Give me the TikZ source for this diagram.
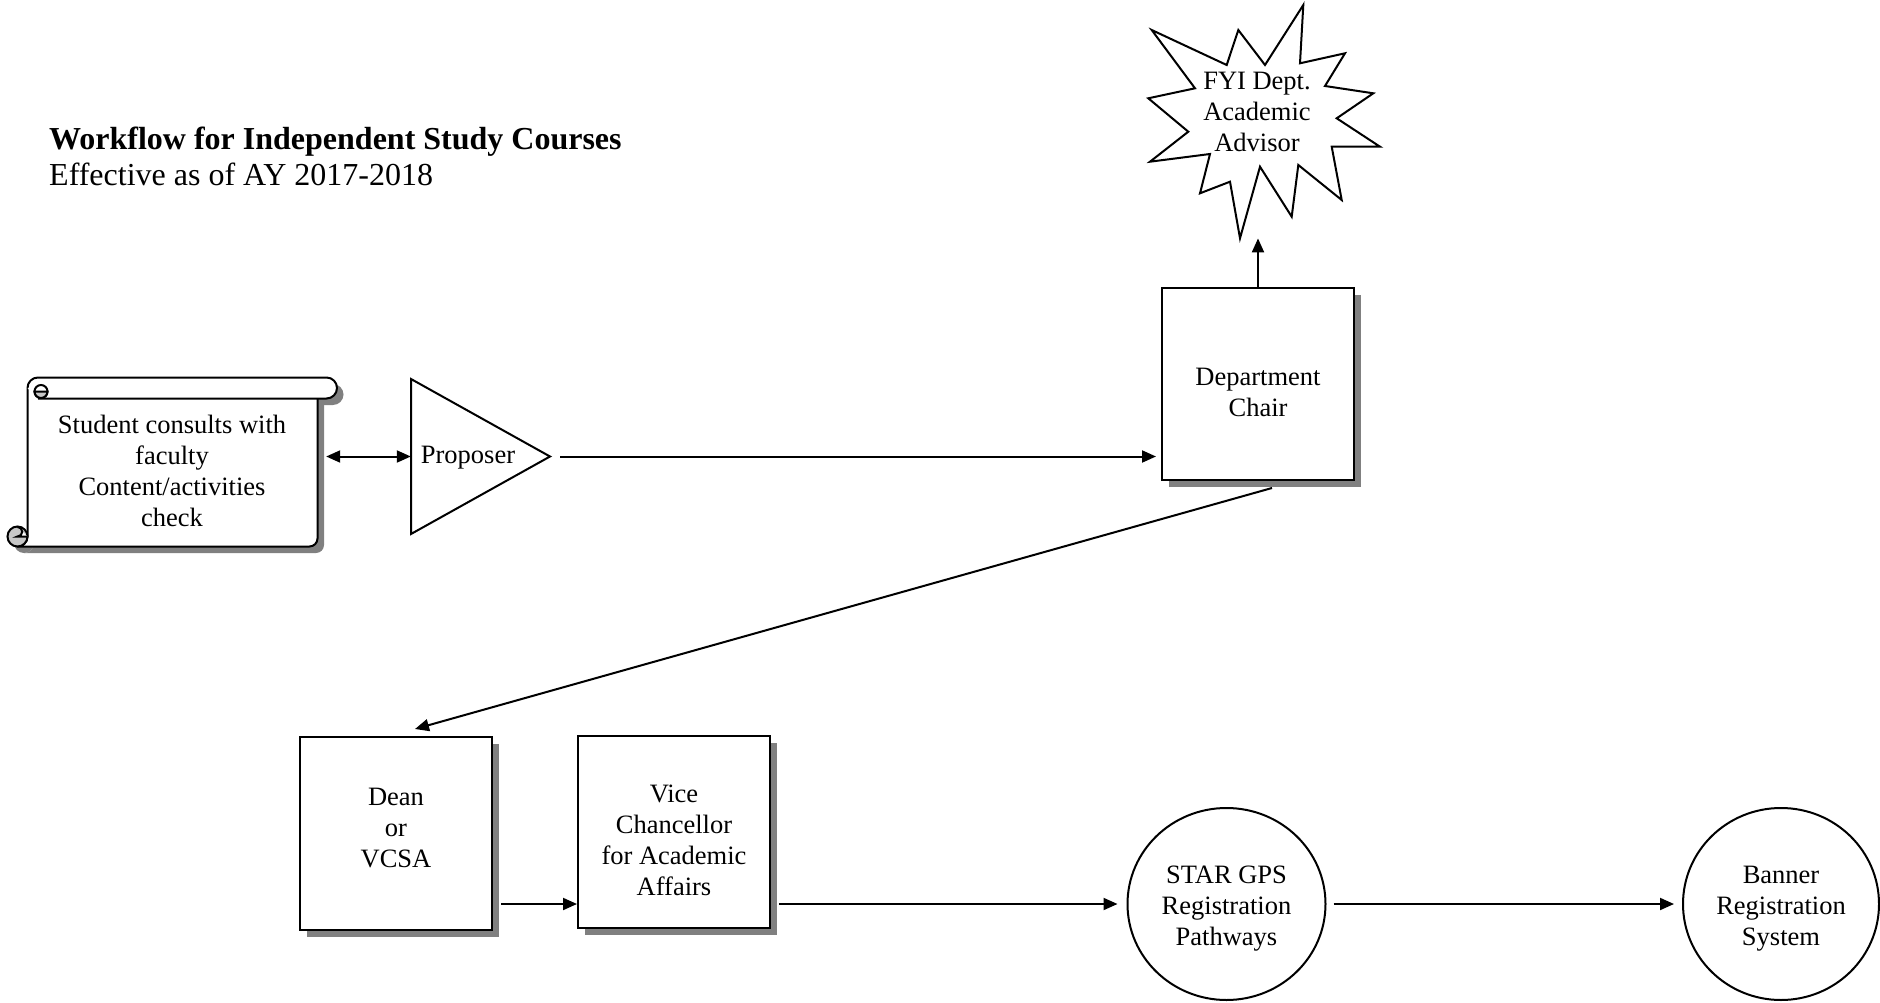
\documentclass[tikz,border=0pt]{standalone}
\usepackage{fontspec}
\setmainfont{Liberation Serif}
\usetikzlibrary{arrows.meta,shapes.geometric,shadows,calc}
\begin{document}
\begin{tikzpicture}[x=1pt,y=-1pt,
  txt/.style={align=center, inner sep=0pt, font=\fontsize{26.5}{31}\selectfont},
  ttl/.style={anchor=base west, inner sep=0pt},
  ln/.style={line width=2pt},
  arr/.style={ln, -{Triangle[length=14pt,width=12pt]}},
  dbl/.style={ln, {Triangle[length=14pt,width=12pt]}-{Triangle[length=14pt,width=12pt]}},
  sqbox/.style={draw, line width=2pt, fill=white, minimum width=192pt, minimum height=192pt, inner sep=0pt,
    drop shadow={shadow xshift=6.5pt, shadow yshift=-6.5pt, fill=black!50, opacity=1}},
  circ/.style={draw, ellipse, line width=2pt, fill=white, minimum width=198pt, minimum height=192pt, inner sep=0pt},
  ghost/.style={inner sep=0pt, minimum width=#1},
]
\useasboundingbox[fill=white] (0,0) rectangle (1880,1003);

% title
\node[ttl, font=\bfseries\fontsize{32}{37}\selectfont] (title) at (49,150) {Workflow for Independent Study Courses};
\node[ttl, font=\fontsize{32}{37}\selectfont] (subtitle) at (49,186) {Effective as of AY 2017-2018};

% scroll shape (shadow)
\begin{scope}[shift={(6.5,6.5)}]
  \fill[black!50] (27.5,388) -- (27.5,536.5) arc[start angle=0, end angle=90, radius=10]
     -- (309.5,546.5) arc[start angle=90, end angle=0, radius=8] -- (317.5,398.5) -- (38,398.5) -- cycle;
  \fill[black!50] (38,377.5) -- (326.5,377.5) arc[start angle=-90, end angle=90, radius=10.5]
     -- (38,398.5) -- cycle;
  \fill[black!50] (17.5,536.5) circle[radius=10];
\end{scope}
% scroll body
\filldraw[ln, fill=white, line join=round] (27.5,388) -- (27.5,536.5) arc[start angle=0, end angle=90, radius=10]
     -- (309.5,546.5) arc[start angle=90, end angle=0, radius=8] -- (317.5,398.5);
\filldraw[ln, fill=black!22] (17.5,536.5) circle[radius=10];
\filldraw[ln, fill=white] (17.5,527) arc[start angle=-90, end angle=90, radius=4.75] -- (27.5,536.5);
% scroll roll
\filldraw[ln, fill=white, line join=round] (27.5,388) arc[start angle=180, end angle=270, radius=10.5]
     -- (326.5,377.5) arc[start angle=-90, end angle=90, radius=10.5] -- (38,398.5);
\draw[ln, fill=white] (41,391.5) circle[radius=6.5];
\filldraw[ln, fill=black!22] (47.5,391.5) arc[start angle=0, end angle=180, radius=6.5] -- cycle;
\node[ghost=290pt, minimum height=169pt] (scroll) at (172.5,462) {};
\node[txt] (scrolltext) at (172,470.5) {Student consults with\\faculty\\Content/activities\\check};

% proposer triangle
\draw[ln, fill=white, line join=miter] (411,379) -- (550,456.5) -- (411,534) -- cycle;
\node[ghost=139pt, minimum height=155pt] (prop) at (480.5,456.5) {};
\node[txt] (proptext) at (468,458) {Proposer};

% department chair
\node[sqbox] (chair) at (1258,384) {};
\node[txt] (chairtext) at (1258,392.5) {Department\\Chair};

% FYI star
\filldraw[ln, fill=white, line join=miter] (1303.3,5) -- (1300,63.3) -- (1345,53.3) -- (1325,86) -- (1373.3,93.3)
  -- (1336.7,118.3) -- (1380,146.7) -- (1331.7,146.7) -- (1341.7,200) -- (1298.3,165) -- (1291.7,216.7)
  -- (1260,166.7) -- (1240,238.3) -- (1230,181.7) -- (1200,193.3) -- (1210,154) -- (1150,161.7)
  -- (1188.3,131.7) -- (1148.3,98.3) -- (1195,88.3) -- (1151.7,30) -- (1226.7,65) -- (1238.3,30)
  -- (1265,65) -- cycle;
\node[ghost=232pt, minimum height=233pt] (fyi) at (1264,121.7) {};
\node[txt] (fyitext) at (1257,112.4) {FYI Dept.\\Academic\\Advisor};

% dean and vice chancellor
\node[sqbox, minimum height=193pt] (dean) at (396,833.5) {};
\node[txt] (deantext) at (396,828) {Dean\\or\\VCSA};
\node[sqbox] (vc) at (674,832) {};
\node[txt] (vctext) at (674,840.5) {Vice\\Chancellor\\for Academic\\Affairs};

% registration systems
\node[circ] (star) at (1226.5,904) {};
\node[txt] (startext) at (1226.5,909) {STAR GPS\\Registration\\Pathways};
\node[circ, minimum width=196pt] (banner) at (1781,904) {};
\node[txt] (bannertext) at (1781,909) {Banner\\Registration\\System};

% connectors
\draw[dbl] ($(scroll.east |- prop.west)+(8.5,0)$) -- (prop.west);
\draw[arr, shorten <=10pt, shorten >=5pt] (prop.east) -- (chair.west |- prop.east);
\draw[arr] (chair.north) -- (chair.north |- fyi.south);
\draw[arr] ([xshift=14pt,yshift=-7pt]chair.south) -- ([xshift=19pt,yshift=7pt]dean.north);
\draw[arr] ($(dean.east |- star.west)+(8,0)$) -- (vc.west |- star.west);
\draw[arr] ($(vc.east |- star.west)+(8,0)$) -- ($(star.west)+(-9,0)$);
\draw[arr] ($(star.east)+(7,0)$) -- ($(banner.west)+(-8,0)$);
\end{tikzpicture}
\end{document}
